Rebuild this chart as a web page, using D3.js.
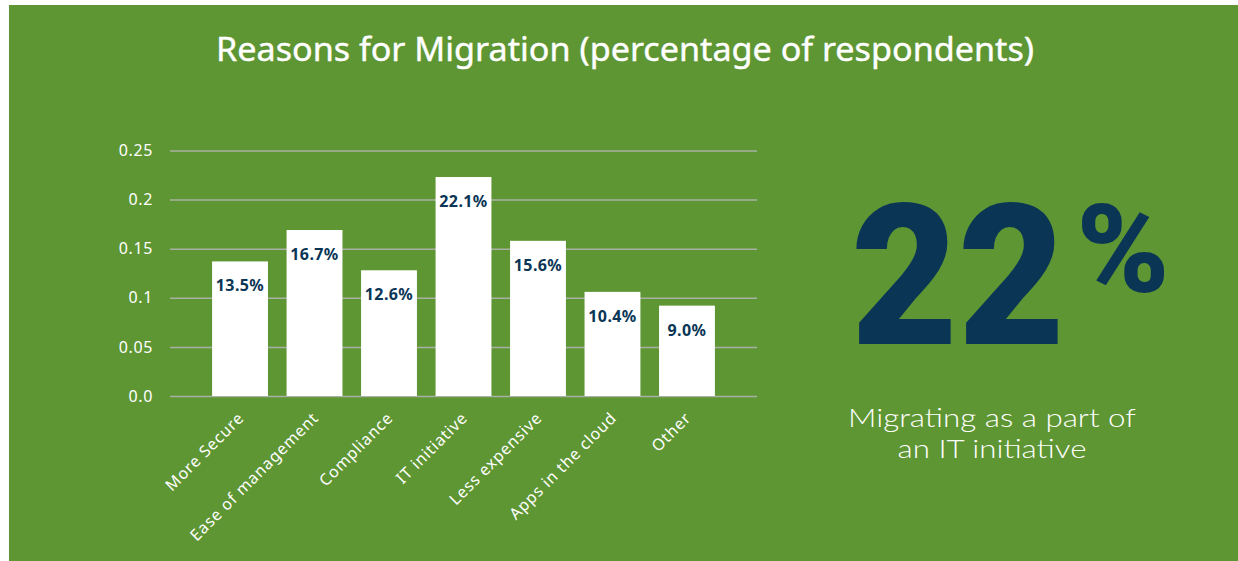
<!DOCTYPE html>
<html>
<head>
<meta charset="utf-8">
<script src="https://cdn.jsdelivr.net/npm/d3@7"></script>
<style>
  html, body { margin: 0; padding: 0; background: #fff; }
  svg { display: block; }
</style>
</head>
<body>
<svg id="mainSvg" width="1238" height="561"></svg>
<script>
const categories = ["More Secure", "Ease of management", "Compliance", "IT initiative", "Less expensive", "Apps in the cloud", "Other"];
const shares = [0.135, 0.167, 0.126, 0.221, 0.156, 0.104, 0.090];
const shareLabels = ["13.5%", "16.7%", "12.6%", "22.1%", "15.6%", "10.4%", "9.0%"];
const yTicks = [0, 0.05, 0.1, 0.15, 0.2, 0.25];
const yTickLabels = ["0.0", "0.05", "0.1", "0.15", "0.2", "0.25"];
const bigNumber = "22";
const bigSign = "%";
const caption = ["Migrating as a part of", "an IT initiative"];
const captionWidths = [288, 189];
const title = "Reasons for Migration (percentage of respondents)";

const green = '#5e9633';
const navy = '#0a3555';

let svg = d3.select('#mainSvg');

svg.append('rect')
  .attr('x', 9).attr('y', 5)
  .attr('width', 1229).attr('height', 556)
  .attr('fill', green);

svg.append('text')
  .attr('x', 625).attr('y', 61)
  .attr('text-anchor', 'middle')
  .attr('fill', '#fff')
  .attr('font-family', 'Noto Sans, sans-serif')
  .attr('font-size', 32)
  .attr('textLength', 818)
  .attr('lengthAdjust', 'spacingAndGlyphs')
  .style('paint-order', 'stroke')
  .attr('stroke', '#fff').attr('stroke-width', 0.4)
  .text(title);

let x = d3.scaleBand()
  .domain(categories)
  .range([170, 757])
  .paddingInner(0.25)
  .paddingOuter(0.565);

let y = d3.scaleLinear()
  .domain([0, 0.25])
  .range([396, 150.5]);

// gridlines + tick labels
let yAxis = svg.append('g')
  .attr('transform', 'translate(170,0)')
  .call(d3.axisLeft(y).tickValues(yTicks).tickSize(-587)
    .tickFormat((d, i) => yTickLabels[i]).tickPadding(17));
yAxis.select('.domain').remove();
yAxis.selectAll('line').attr('stroke', '#a9b0a4').attr('stroke-width', 1.5);
yAxis.selectAll('text')
  .attr('fill', '#fff')
  .attr('font-family', 'Noto Sans, sans-serif')
  .attr('font-size', 16)
  .attr('letter-spacing', 0.6);

// bars
svg.append('g').selectAll('rect')
  .data(shares)
  .join('rect')
  .attr('x', (d, i) => x(categories[i]))
  .attr('y', d => y(d) - 2)
  .attr('width', x.bandwidth())
  .attr('height', d => y(0) - y(d) + 2)
  .attr('fill', '#fff');

svg.append('g').selectAll('text')
  .data(shares)
  .join('text')
  .attr('x', (d, i) => x(categories[i]) + x.bandwidth() / 2)
  .attr('y', d => y(d) + 28)
  .attr('text-anchor', 'middle')
  .attr('fill', navy)
  .attr('font-family', 'Noto Sans, sans-serif')
  .attr('font-weight', 700)
  .attr('font-size', 16)
  .attr('letter-spacing', 0.4)
  .text((d, i) => shareLabels[i]);

// rotated category labels, ending just right of each bar centre
svg.append('g').selectAll('text')
  .data(categories)
  .join('text')
  .attr('transform', d => `translate(${x(d) + x.bandwidth() / 2 + 5},419) rotate(-45)`)
  .attr('text-anchor', 'end')
  .attr('fill', '#fff')
  .attr('font-family', 'Noto Sans, sans-serif')
  .attr('font-size', 16)
  .attr('letter-spacing', 0.8)
  .text(d => d);

// big callout
svg.append('text')
  .attr('x', 958).attr('y', 344)
  .attr('text-anchor', 'middle')
  .attr('fill', navy)
  .attr('font-family', 'Roboto, sans-serif')
  .attr('font-weight', 900)
  .attr('font-size', 196)
  .attr('textLength', 214)
  .attr('lengthAdjust', 'spacingAndGlyphs')
  .text(bigNumber);

svg.append('text')
  .attr('x', 1123).attr('y', 292)
  .attr('text-anchor', 'middle')
  .attr('fill', navy)
  .attr('font-family', 'Roboto, sans-serif')
  .attr('font-weight', 900)
  .attr('font-size', 122)
  .attr('textLength', 93)
  .attr('lengthAdjust', 'spacingAndGlyphs')
  .text(bigSign);

svg.append('g').selectAll('text')
  .data(caption)
  .join('text')
  .attr('x', 992)
  .attr('y', (d, i) => 427 + i * 31)
  .attr('text-anchor', 'middle')
  .attr('fill', '#fff')
  .attr('font-family', 'Lato, sans-serif')
  .attr('font-weight', 300)
  .attr('font-size', 26)
  .attr('textLength', (d, i) => captionWidths[i])
  .attr('lengthAdjust', 'spacingAndGlyphs')
  .text(d => d);
</script>
</body>
</html>
